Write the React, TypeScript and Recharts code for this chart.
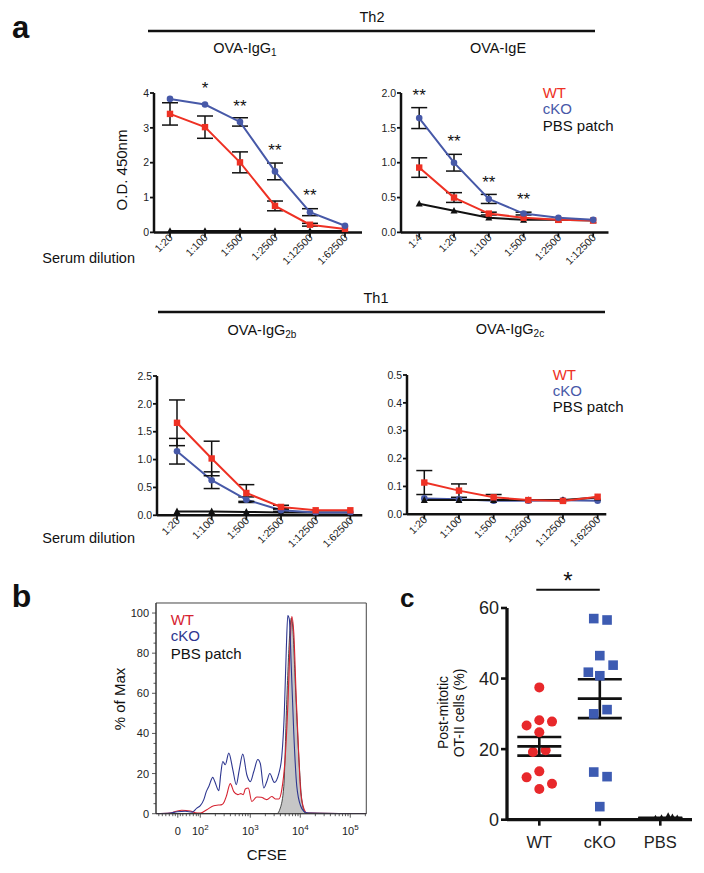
import React from 'react';
import {
  ComposedChart, Line, Area, Scatter, XAxis, YAxis, ErrorBar,
  ReferenceDot, ReferenceArea, ReferenceLine,
} from 'recharts';

const FONT = '"Liberation Sans", Arial, Helvetica, sans-serif';
const RED = '#EE3124';
const BLUE = '#4759A8';
const INK = '#111111';
const RED_B = '#D52331';
const BLUE_B = '#2E3790';
const RED_C = '#E8282B';
const BLUE_C = '#3D5BB2';

// ---------------- Panel a data ----------------
const DIL_IGG = ['1:20', '1:100', '1:500', '1:2500', '1:12500', '1:62500'];
const DIL_IGE = ['1:4', '1:20', '1:100', '1:500', '1:2500', '1:12500'];

// OVA-IgG1
const IGG1_WT = [3.40, 3.02, 2.01, 0.76, 0.22, 0.10];
const IGG1_WT_ERR = [0.32, 0.32, 0.30, 0.14, 0.04, 0];
const IGG1_KO = [3.83, 3.67, 3.17, 1.75, 0.58, 0.19];
const IGG1_KO_ERR = [0, 0, 0.12, 0.24, 0.10, 0];
const IGG1_PBS = [0.04, 0.04, 0.04, 0.04, 0.04, 0.04];
const IGG1_STARS = ['', '*', '**', '**', '**', ''];
const IGG1_STAR_Y = [0, 4.24, 3.74, 2.47, 1.18, 0];

// OVA-IgE
const IGE_WT = [0.93, 0.50, 0.27, 0.21, 0.18, 0.17];
const IGE_WT_ERR = [0.14, 0.07, 0.02, 0, 0, 0];
const IGE_KO = [1.64, 1.00, 0.48, 0.27, 0.21, 0.18];
const IGE_KO_ERR = [0.15, 0.12, 0.065, 0.02, 0, 0];
const IGE_PBS = [0.41, 0.31, 0.21, 0.18, 0.18, 0.17];
const IGE_STARS = ['**', '**', '**', '**', '', ''];
const IGE_STAR_Y = [2.03, 1.37, 0.78, 0.53, 0, 0];

// OVA-IgG2b
const IGG2B_WT = [1.66, 1.02, 0.40, 0.15, 0.09, 0.09];
const IGG2B_WT_ERR = [0.41, 0.31, 0.15, 0.03, 0, 0];
const IGG2B_KO = [1.15, 0.63, 0.28, 0.09, 0.05, 0.05];
const IGG2B_KO_ERR = [0.23, 0.15, 0.05, 0.02, 0, 0];
const IGG2B_PBS = [0.07, 0.07, 0.06, 0.05, 0.05, 0.05];

// OVA-IgG2c
const IGG2C_WT = [0.114, 0.085, 0.061, 0.051, 0.048, 0.063];
const IGG2C_WT_ERR = [0.043, 0.024, 0.01, 0, 0, 0];
const IGG2C_KO = [0.057, 0.054, 0.049, 0.049, 0.050, 0.049];
const IGG2C_KO_ERR = [0, 0, 0, 0, 0, 0];
const IGG2C_PBS = [0.051, 0.051, 0.051, 0.051, 0.051, 0.060];

const Y_IGG1 = [0, 1, 2, 3, 4];
const Y_IGE = [0, 0.5, 1, 1.5, 2];
const Y_IGG2B = [0, 0.5, 1, 1.5, 2, 2.5];
const Y_IGG2C = [0, 0.1, 0.2, 0.3, 0.4, 0.5];

// ---------------- Panel b data (CFSE position in display decades) ----------------
const KO_CFSE = [1.12, 1.40, 1.54, 1.70, 1.84, 1.93, 2.00, 2.07, 2.12, 2.17, 2.25, 2.29, 2.37, 2.41, 2.45, 2.50, 2.57, 2.65, 2.72, 2.78, 2.85, 2.93, 3.00, 3.07, 3.15, 3.20, 3.27, 3.33, 3.39, 3.48, 3.57, 3.63, 3.68, 3.72, 3.75, 3.78, 3.82, 3.87, 3.93, 4.01, 4.10, 4.17, 5.32];
const KO_PCT = [0, 0.3, 1.0, 1.2, 0.8, 2.8, 4, 7, 11, 13.6, 18.1, 16, 11.5, 20, 26, 24.4, 30.2, 22, 14.5, 22, 29.7, 19.4, 16, 21, 27, 25, 12.8, 16, 20, 15.6, 20, 28.6, 50, 82, 98.7, 97, 73, 40, 13.6, 3.7, 0.7, 0.3, 0];
const WT_CFSE = [1.12, 1.40, 1.52, 1.63, 1.80, 1.90, 2.00, 2.13, 2.27, 2.36, 2.43, 2.48, 2.52, 2.60, 2.67, 2.75, 2.81, 2.86, 2.90, 2.96, 3.03, 3.13, 3.22, 3.28, 3.33, 3.43, 3.50, 3.57, 3.63, 3.70, 3.75, 3.80, 3.83, 3.87, 3.92, 3.97, 4.01, 4.08, 4.13, 5.32];
const WT_PCT = [0, 0.3, 1.2, 1.7, 1.3, 0.5, 0.3, 2, 4, 4.3, 4.5, 6, 8.6, 15, 11, 9.5, 10, 9.5, 12.3, 12.8, 6.1, 8.3, 8.2, 7.5, 7, 8.6, 7.3, 7.3, 12, 28.6, 53.5, 86.7, 98.3, 90, 57, 28.6, 10.3, 2, 0.3, 0];
const PBS_CFSE = [1.12, 3.53, 3.60, 3.67, 3.73, 3.79, 3.82, 3.85, 3.90, 3.97, 4.03, 4.10, 5.32];
const PBS_PCT = [0, 0, 2.8, 13.6, 56.8, 90, 97.5, 93, 65, 28.6, 7, 0.3, 0];

const CFSE_MAJOR = [1.55, 2, 3, 4, 5];
const CFSE_BASE = ['0', '10', '10', '10', '10'];
const CFSE_EXP = ['', '2', '3', '4', '5'];
const CFSE_LINEAR_MINOR = [1.17, 1.24, 1.31, 1.38, 1.45, 1.50, 1.60, 1.65, 1.72, 1.79, 1.86, 1.92, 1.96];
const LOG_MINOR_STEPS = [2, 3, 4, 5, 6, 7, 8, 9];
const PCT_TICKS = [0, 20, 40, 60, 80, 100];

// ---------------- Panel c data ----------------
const GROUPS = ['WT', 'cKO', 'PBS'];
const C_WT = [37.5, 26.7, 28.2, 27.8, 24.8, 19.2, 19.7, 13.7, 12.0, 10.2, 8.7];
const C_WT_OFF = [0, -0.21, 0, 0.21, 0, -0.105, 0.105, 0, -0.21, 0.21, 0];
const C_KO = [57.0, 56.6, 46.5, 43.8, 41.8, 40.8, 30.0, 31.2, 13.5, 12.2, 3.7];
const C_KO_OFF = [-0.1, 0.12, 0, 0.22, -0.19, 0, -0.1, 0.12, -0.1, 0.12, 0];
const C_PBS = [0.1, 0.3, 0.8, 0.5, 0.2];
const C_PBS_OFF = [-0.08, 0.02, 0.13, 0.2, 0.28];
const C_MEAN = [20.8, 34.3, 0.4];
const C_SEM = [2.65, 5.5, 0.15];
const C_TICKS = [0, 20, 40, 60];

// ---------------- layout helpers ----------------
const YW = 50;
const XH = 50;
const MT = 24;
const MR = 14;

type Rect = { x0: number; x1: number; y0: number; y1: number; lo: number; hi: number };

const R_IGG1: Rect = { x0: 154, x1: 362, y0: 93.3, y1: 232.7, lo: -0.457, hi: 5.486 };
const R_IGE: Rect = { x0: 400.5, x1: 608, y0: 93.3, y1: 232.7, lo: -0.523, hi: 5.44 };
const R_IGG2B: Rect = { x0: 156.7, x1: 362, y0: 375.7, y1: 515, lo: -0.577, hi: 5.345 };
const R_IGG2C: Rect = { x0: 406.7, x1: 606, y0: 375, y1: 514.3, lo: -0.499, hi: 5.25 };
const R_B: Rect = { x0: 155.7, x1: 366, y0: 603.3, y1: 814, lo: 1.114, hi: 5.32 };
const R_C: Rect = { x0: 506.7, x1: 691.7, y0: 608.3, y1: 820, lo: -0.534, hi: 2.524 };

const dims = (r: Rect) => ({
  left: r.x0 - YW,
  top: r.y0 - MT,
  width: YW + (r.x1 - r.x0) + MR,
  height: MT + (r.y1 - r.y0) + XH,
});

const sqDot = (color: string, s = 6.4) => (p: any) =>
  p.cx == null ? <g key={p.key ?? p.index} /> :
    <rect key={p.key ?? p.index} x={p.cx - s / 2} y={p.cy - s / 2} width={s} height={s} fill={color} />;
const circDot = (color: string, r = 3.3) => (p: any) =>
  p.cx == null ? <g key={p.key ?? p.index} /> :
    <circle key={p.key ?? p.index} cx={p.cx} cy={p.cy} r={r} fill={color} />;
const triDot = (color: string, s = 7) => (p: any) =>
  p.cx == null ? <g key={p.key ?? p.index} /> :
    <polygon key={p.key ?? p.index}
      points={`${p.cx},${p.cy - s * 0.55} ${p.cx - s / 2},${p.cy + s * 0.4} ${p.cx + s / 2},${p.cy + s * 0.4}`}
      fill={color} />;

const rotTick = (labels: string[]) => (p: any) => {
  const v = p.payload?.value;
  const ax = p.x + 3.5;
  const ay = p.y - 1;
  return (
    <text x={ax} y={ay} transform={`rotate(-45 ${ax} ${ay})`} textAnchor="end"
      fontSize={10.5} fill="#222" fontFamily={FONT}>{labels[v]}</text>
  );
};

const starShape = (s: string, fs = 17) => (p: any) =>
  <text x={p.cx} y={p.cy + fs * 0.57} textAnchor="middle" fontSize={fs} fill={INK} fontFamily={FONT}>{s}</text>;

type DilProps = {
  r: Rect; labels: string[]; yTicks: number[]; yFmt: (v: number) => string;
  wt: number[]; wtErr: number[]; ko: number[]; koErr: number[]; pbs: number[];
  stars?: string[]; starY?: number[]; order: string[];
};

function DilutionChart({ r, labels, yTicks, yFmt, wt, wtErr, ko, koErr, pbs, stars, starY, order }: DilProps) {
  const d = dims(r);
  const data = labels.map((_, i) => ({ i, wt: wt[i], wtErr: wtErr[i], ko: ko[i], koErr: koErr[i], pbs: pbs[i] }));
  const series: Record<string, React.ReactNode> = {
    pbs: (
      <Line key="pbs" dataKey="pbs" stroke={INK} strokeWidth={2} dot={triDot(INK)} activeDot={false} isAnimationActive={false} />
    ),
    wt: (
      <Line key="wt" dataKey="wt" stroke={RED} strokeWidth={2} dot={sqDot(RED)} activeDot={false} isAnimationActive={false}>
        <ErrorBar dataKey="wtErr" width={8} stroke={INK} strokeWidth={1.5} direction="y" />
      </Line>
    ),
    ko: (
      <Line key="ko" dataKey="ko" stroke={BLUE} strokeWidth={2} dot={circDot(BLUE)} activeDot={false} isAnimationActive={false}>
        <ErrorBar dataKey="koErr" width={8} stroke={INK} strokeWidth={1.5} direction="y" />
      </Line>
    ),
  };
  return (
    <div style={{ position: 'absolute', left: d.left, top: d.top }}>
      <ComposedChart width={d.width} height={d.height} data={data} margin={{ top: MT, right: MR, bottom: 0, left: 0 }}>
        <XAxis type="number" dataKey="i" domain={[r.lo, r.hi]} allowDataOverflow ticks={[0, 1, 2, 3, 4, 5]} interval={0}
          height={XH} axisLine={{ stroke: INK, strokeWidth: 2.5 }} tickLine={{ stroke: INK, strokeWidth: 1.8 }}
          tickSize={5} tick={rotTick(labels)} />
        <YAxis type="number" domain={[0, yTicks[yTicks.length - 1]]} allowDataOverflow ticks={yTicks} interval={0}
          width={YW} axisLine={{ stroke: INK, strokeWidth: 2.5 }} tickLine={{ stroke: INK, strokeWidth: 1.8 }}
          tickSize={4} tickMargin={1} tickFormatter={yFmt}
          tick={{ fontSize: 10.5, fill: '#222', fontFamily: FONT }} />
        {order.map((k) => series[k])}
        {(stars || []).map((s, i) => s ? (
          <ReferenceDot key={'s' + i} x={i} y={(starY || [])[i]} r={0} ifOverflow="visible" shape={starShape(s)} />
        ) : null)}
      </ComposedChart>
    </div>
  );
}

function FlowChart() {
  const r = R_B;
  const d = dims(r);
  const axisY = MT + (r.y1 - r.y0);
  const logMinor = [2, 3, 4, 5].flatMap((dec) => LOG_MINOR_STEPS.map((k) => dec + Math.log10(k))).filter((v) => v < r.hi);
  const xTicks = [...CFSE_MAJOR, ...CFSE_LINEAR_MINOR, ...logMinor];
  const yTicks: number[] = [];
  for (let v = 0; v <= 100; v += 5) yTicks.push(v);
  const ko = KO_CFSE.map((x, i) => ({ x, v: KO_PCT[i] }));
  const wt = WT_CFSE.map((x, i) => ({ x, v: WT_PCT[i] }));
  const pbs = PBS_CFSE.map((x, i) => ({ x, v: PBS_PCT[i] }));
  const xTick = (p: any) => {
    const v = p.payload?.value;
    const mi = CFSE_MAJOR.indexOf(v);
    const major = mi >= 0;
    return (
      <g>
        <line x1={p.x} x2={p.x} y1={axisY} y2={axisY + (major ? 4 : 2.5)} stroke="#333" strokeWidth={0.8} />
        {major && (
          <text x={p.x} y={axisY + 21} textAnchor="middle" fontSize={11} fill="#222" fontFamily={FONT}>
            {CFSE_BASE[mi]}
            {CFSE_EXP[mi] ? <tspan dy={-5} fontSize={8}>{CFSE_EXP[mi]}</tspan> : null}
          </text>
        )}
      </g>
    );
  };
  const yTick = (p: any) => {
    const v = p.payload?.value;
    const major = PCT_TICKS.includes(v);
    return (
      <g>
        <line x1={YW} x2={YW - (major ? 4 : 2.5)} y1={p.y} y2={p.y} stroke="#333" strokeWidth={0.8} />
        {major && (
          <text x={YW - 7} y={p.y + 4} textAnchor="end" fontSize={11} fill="#222" fontFamily={FONT}>{v}</text>
        )}
      </g>
    );
  };
  return (
    <div style={{ position: 'absolute', left: d.left, top: d.top }}>
      <ComposedChart width={d.width} height={d.height} margin={{ top: MT, right: MR, bottom: 0, left: 0 }}>
        <XAxis type="number" dataKey="x" domain={[r.lo, r.hi]} allowDataOverflow ticks={xTicks} interval={0}
          height={XH} axisLine={{ stroke: '#333', strokeWidth: 1 }} tickLine={false} tick={xTick} />
        <YAxis type="number" domain={[0, 105]} allowDataOverflow ticks={yTicks} interval={0}
          width={YW} axisLine={{ stroke: '#333', strokeWidth: 1 }} tickLine={false} tick={yTick} />
        <ReferenceArea x1={r.lo} x2={r.hi} y1={0} y2={105} fill="none" fillOpacity={0} stroke="#444" strokeWidth={1} ifOverflow="visible" />
        <Area data={pbs} dataKey="v" type="monotone" fill="#C6C6C6" fillOpacity={1} stroke="#222" strokeWidth={0.8}
          dot={false} activeDot={false} isAnimationActive={false} />
        <Line data={wt} dataKey="v" type="monotone" stroke={RED_B} strokeWidth={1.1} dot={false} activeDot={false} isAnimationActive={false} />
        <Line data={ko} dataKey="v" type="monotone" stroke={BLUE_B} strokeWidth={1.1} dot={false} activeDot={false} isAnimationActive={false} />
      </ComposedChart>
    </div>
  );
}

function DotPlot() {
  const r = R_C;
  const d = dims(r);
  const wt = C_WT.map((y, i) => ({ x: 0 + C_WT_OFF[i], y }));
  const ko = C_KO.map((y, i) => ({ x: 1 + C_KO_OFF[i], y }));
  const pbs = C_PBS.map((y, i) => ({ x: 2 + C_PBS_OFF[i], y }));
  const means = C_MEAN.map((y, i) => ({ x: i, y, e: C_SEM[i] }));
  return (
    <div style={{ position: 'absolute', left: d.left, top: d.top }}>
      <ComposedChart width={d.width} height={d.height} margin={{ top: MT, right: MR, bottom: 0, left: 0 }}>
        <XAxis type="number" dataKey="x" domain={[r.lo, r.hi]} allowDataOverflow ticks={[0, 1, 2]} interval={0}
          height={XH} axisLine={{ stroke: INK, strokeWidth: 3.3 }} tickLine={{ stroke: INK, strokeWidth: 2.6 }}
          tickSize={6} tickMargin={11} tickFormatter={(v: number) => GROUPS[v]}
          tick={{ fontSize: 16.5, fill: '#222', fontFamily: FONT }} />
        <YAxis type="number" dataKey="y" domain={[0, 60]} allowDataOverflow ticks={C_TICKS} interval={0}
          width={YW} axisLine={{ stroke: INK, strokeWidth: 3.3 }} tickLine={{ stroke: INK, strokeWidth: 2.6 }}
          tickSize={6} tickMargin={2} tick={{ fontSize: 18, fill: '#222', fontFamily: FONT }} />
        <Scatter data={wt} isAnimationActive={false}
          shape={(p: any) => <circle cx={p.cx} cy={p.cy} r={5} fill={RED_C} />} />
        <Scatter data={ko} isAnimationActive={false}
          shape={(p: any) => <rect x={p.cx - 4.8} y={p.cy - 4.8} width={9.6} height={9.6} fill={BLUE_C} />} />
        <Scatter data={pbs} isAnimationActive={false}
          shape={(p: any) => <polygon points={`${p.cx},${p.cy - 4.5} ${p.cx - 4},${p.cy + 3} ${p.cx + 4},${p.cy + 3}`} fill={INK} />} />
        <Scatter data={means} isAnimationActive={false}
          shape={(p: any) => <line x1={p.cx - 22} x2={p.cx + 22} y1={p.cy} y2={p.cy} stroke={INK} strokeWidth={2.8} />}>
          <ErrorBar dataKey="e" direction="y" width={22} stroke={INK} strokeWidth={2.6} />
        </Scatter>
        <ReferenceLine segment={[{ x: -0.05, y: 65.2 }, { x: 1, y: 65.2 }]} stroke={INK} strokeWidth={2} ifOverflow="visible" />
      </ComposedChart>
    </div>
  );
}

function Overlay() {
  const t = { fontFamily: FONT, fill: INK } as const;
  return (
    <svg width={704} height={873} style={{ position: 'absolute', left: 0, top: 0, pointerEvents: 'none' }}>
      <text x={12} y={37.5} fontSize={31} fontWeight="bold" {...t}>a</text>
      <text x={372} y={22} fontSize={14.5} textAnchor="middle" {...t}>Th2</text>
      <line x1={148} x2={595} y1={31} y2={31} stroke={INK} strokeWidth={2.5} />
      <text x={245} y={53} fontSize={14.5} textAnchor="middle" {...t}>OVA-IgG<tspan dy={3} fontSize={10}>1</tspan></text>
      <text x={498} y={53} fontSize={14.5} textAnchor="middle" {...t}>OVA-IgE</text>
      <text transform="translate(127,170) rotate(-90)" fontSize={15} textAnchor="middle" {...t}>O.D. 450nm</text>
      <text x={135} y={263} fontSize={14.5} textAnchor="end" {...t}>Serum dilution</text>
      <text x={542.7} y={97.5} fontSize={15} fontFamily={FONT} fill={RED}>WT</text>
      <text x={542.7} y={114} fontSize={15} fontFamily={FONT} fill={BLUE}>cKO</text>
      <text x={542.7} y={130.5} fontSize={15} {...t}>PBS patch</text>

      <text x={376} y={303} fontSize={14.5} textAnchor="middle" {...t}>Th1</text>
      <line x1={158} x2={605} y1={312} y2={312} stroke={INK} strokeWidth={2.5} />
      <text x={262} y={335} fontSize={14.5} textAnchor="middle" {...t}>OVA-IgG<tspan dy={3} fontSize={10}>2b</tspan></text>
      <text x={510} y={334} fontSize={14.5} textAnchor="middle" {...t}>OVA-IgG<tspan dy={3} fontSize={10}>2c</tspan></text>
      <text x={135} y={543} fontSize={14.5} textAnchor="end" {...t}>Serum dilution</text>
      <text x={552.7} y={379.5} fontSize={15} fontFamily={FONT} fill={RED}>WT</text>
      <text x={552.7} y={395.5} fontSize={15} fontFamily={FONT} fill={BLUE}>cKO</text>
      <text x={552.7} y={411.5} fontSize={15} {...t}>PBS patch</text>

      <text x={11.7} y={607} fontSize={32} fontWeight="bold" {...t}>b</text>
      <text x={170.7} y={625.3} fontSize={15} fontFamily={FONT} fill={RED_B}>WT</text>
      <text x={170.7} y={641} fontSize={15} fontFamily={FONT} fill={BLUE_B}>cKO</text>
      <text x={170.7} y={658.5} fontSize={15} {...t}>PBS patch</text>
      <text transform="translate(125,699) rotate(-90)" fontSize={15} textAnchor="middle" {...t}>% of Max</text>
      <text x={266.7} y={860} fontSize={15} textAnchor="middle" {...t}>CFSE</text>

      <text x={400} y={607} fontSize={26} fontWeight="bold" {...t}>c</text>
      <text x={568} y={589} fontSize={24} textAnchor="middle" {...t}>*</text>
      <text transform="translate(448,712.5) rotate(-90)" fontSize={14} textAnchor="middle" {...t}>Post-mitotic</text>
      <text transform="translate(464,713) rotate(-90)" fontSize={14} textAnchor="middle" {...t}>OT-II cells (%)</text>
    </svg>
  );
}

const fmt0 = (v: number) => String(v);
const fmt1 = (v: number) => v.toFixed(1);

export default function App() {
  return (
    <div style={{ position: 'absolute', left: 0, top: 0, width: 704, height: 873, background: '#fff', overflow: 'hidden', fontFamily: FONT }}>
      <DilutionChart r={R_IGG1} labels={DIL_IGG} yTicks={Y_IGG1} yFmt={fmt0}
        wt={IGG1_WT} wtErr={IGG1_WT_ERR} ko={IGG1_KO} koErr={IGG1_KO_ERR} pbs={IGG1_PBS}
        stars={IGG1_STARS} starY={IGG1_STAR_Y} order={['pbs', 'wt', 'ko']} />
      <DilutionChart r={R_IGE} labels={DIL_IGE} yTicks={Y_IGE} yFmt={fmt1}
        wt={IGE_WT} wtErr={IGE_WT_ERR} ko={IGE_KO} koErr={IGE_KO_ERR} pbs={IGE_PBS}
        stars={IGE_STARS} starY={IGE_STAR_Y} order={['pbs', 'wt', 'ko']} />
      <DilutionChart r={R_IGG2B} labels={DIL_IGG} yTicks={Y_IGG2B} yFmt={fmt1}
        wt={IGG2B_WT} wtErr={IGG2B_WT_ERR} ko={IGG2B_KO} koErr={IGG2B_KO_ERR} pbs={IGG2B_PBS}
        order={['pbs', 'ko', 'wt']} />
      <DilutionChart r={R_IGG2C} labels={DIL_IGG} yTicks={Y_IGG2C} yFmt={fmt1}
        wt={IGG2C_WT} wtErr={IGG2C_WT_ERR} ko={IGG2C_KO} koErr={IGG2C_KO_ERR} pbs={IGG2C_PBS}
        order={['ko', 'pbs', 'wt']} />
      <FlowChart />
      <DotPlot />
      <Overlay />
    </div>
  );
}
